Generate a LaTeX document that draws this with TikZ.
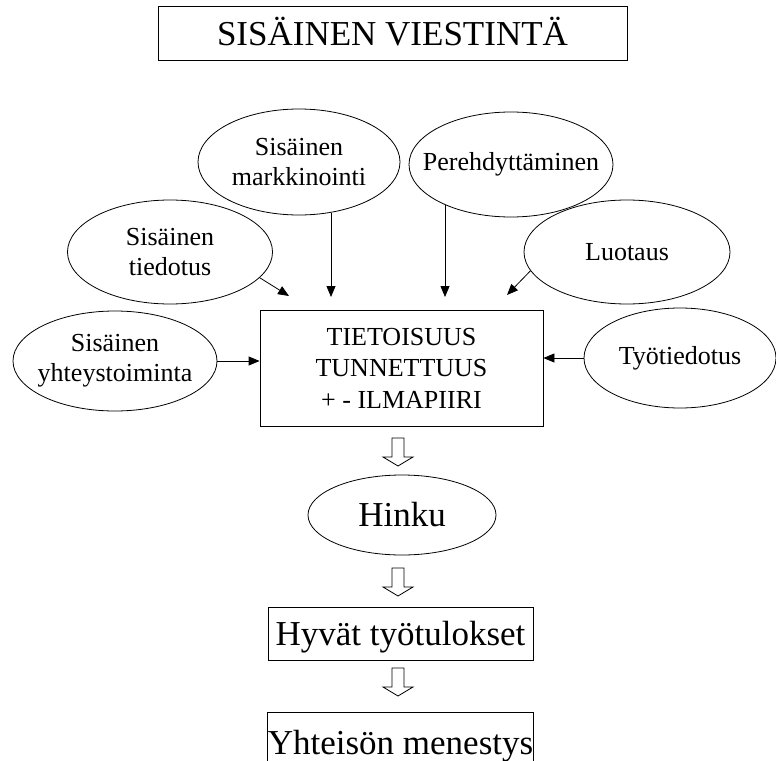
\documentclass[tikz,border=0pt]{standalone}
\usepackage{fontspec}
\setmainfont{Liberation Serif}
\usetikzlibrary{shapes.geometric,arrows.meta}
\begin{document}
\begin{tikzpicture}[x=1pt,y=-1pt,
  ell/.style={draw,ellipse,inner xsep=-60pt,inner ysep=-30pt,line width=0.8pt,font=\fontsize{26}{30}\selectfont,align=center},
  bigbox/.style={draw,rectangle,line width=0.8pt,font=\fontsize{35}{42}\selectfont,inner sep=0pt},
  thinarrow/.style={line width=0.8pt,-{Triangle[length=11pt,width=9pt]}},
  hollow/.style={draw,line width=0.8pt,fill=white,line join=miter}]
\useasboundingbox (0,0) rectangle (776,760);

% title
\node[bigbox,minimum width=469pt,minimum height=54pt,text height=26pt,text depth=0pt] (title) at (392.5,33) {SISÄINEN VIESTINTÄ};

% ellipses
\node[ell,minimum width=202pt,minimum height=106pt] (mark) at (299,162) {Sisäinen\\markkinointi};
\node[ell,minimum width=204pt,minimum height=105pt] (pere) at (511,164.5) {Perehdyttäminen};
\node[ell,minimum width=205pt,minimum height=104pt] (tied) at (170,252) {Sisäinen\\tiedotus};
\node[ell,minimum width=206pt,minimum height=104pt] (luo) at (627,252) {Luotaus};
\node[ell,minimum width=204pt,minimum height=100pt] (yht) at (115,361) {Sisäinen\\yhteystoiminta};
\node[ell,minimum width=192pt,minimum height=100pt] (tyo) at (680,358) {Työtiedotus};

% central box
\node[draw,rectangle,line width=0.8pt,inner sep=0pt,minimum width=283pt,minimum height=116pt,
      font=\fontsize{26}{31.5}\selectfont,align=center] (box) at (401.5,368)
      {TIETOISUUS\\TUNNETTUUS\\+ - ILMAPIIRI};

% lower chain
\node[draw,ellipse,inner sep=0pt,line width=0.8pt,minimum width=188pt,minimum height=80pt,
      font=\fontsize{35}{42}\selectfont] (hinku) at (402,515) {Hinku};
\node[bigbox,minimum width=265pt,minimum height=53pt,text height=28pt,text depth=5pt] (hyvat) at (400.5,633.5) {Hyvät työtulokset};
\node[bigbox,minimum width=265pt,minimum height=53pt,text height=31pt,text depth=0pt] (yht2) at (400.5,738.5) {Yhteisön menestys};

% free ends of the thin arrows
\coordinate (c1) at (289,296);
\coordinate (c2) at (331,297);
\coordinate (c3) at (445,297);
\coordinate (c4) at (507,295);

\draw[thinarrow] (tied.-16) -- (c1);
\draw[thinarrow] (c2 |- mark.-57) -- (c2);
\draw[thinarrow] (c3 |- pere.211) -- (c3);
\draw[thinarrow] (luo.191) -- (c4);
\draw[thinarrow] (yht.east) -- (yht.east -| box.west);
\draw[thinarrow] (tyo.west) -- (tyo.west -| box.east);

% hollow block arrows
\coordinate (b1) at (398,438);
\coordinate (b2) at (398,568);
\coordinate (b3) at (398,668);
\foreach \b in {b1,b2,b3}{
  \draw[hollow] (\b) ++(-6,0) -- ++(12,0) -- ++(0,19) -- ++(9,0) -- ++(-15,9) -- ++(-15,-9) -- ++(9,0) -- cycle;
}
\end{tikzpicture}
\end{document}
